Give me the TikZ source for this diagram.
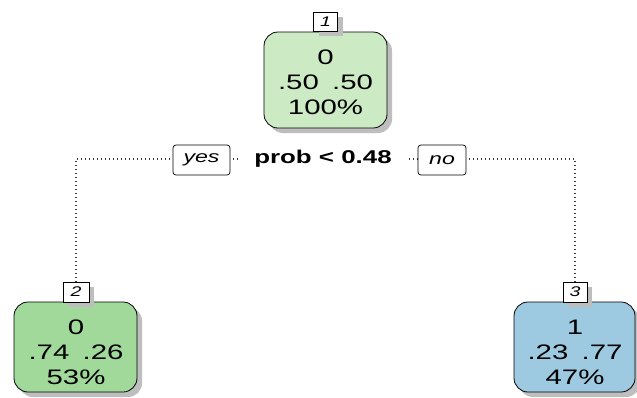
\documentclass[tikz,border=0pt]{standalone}
\usepackage{fontspec}
\setmainfont{Liberation Sans}
\usepackage{graphicx}
\usetikzlibrary{shadows}
\definecolor{topfill}{RGB}{204,235,197}
\definecolor{leftfill}{RGB}{161,217,155}
\definecolor{rightfill}{RGB}{158,202,225}
\definecolor{shadowgray}{RGB}{190,190,190}
\definecolor{dotgray}{RGB}{60,60,60}
\newcommand\sx[1]{\scalebox{1.4}[1]{#1}}
\newcommand\gp{\hspace{0.45em}}
\begin{document}
\begin{tikzpicture}[x=1pt,y=-1pt,
  sh/.style={drop shadow={shadow xshift=5pt,shadow yshift=-5pt,fill=shadowgray,opacity=1}},
  treenode/.style={draw=black,line width=0.8pt,rounded corners=14pt,sh,inner sep=0pt},
  nodetext/.style={align=center,font=\fontsize{21}{25}\selectfont,inner sep=0pt},
  lbl/.style={draw=black,fill=white,line width=0.8pt,inner sep=0pt,minimum height=19pt,
    font=\itshape\fontsize{14}{14}\selectfont,sh},
  yesno/.style={draw=black,fill=white,line width=0.7pt,rounded corners=3pt,inner sep=0pt,
    minimum height=30pt,font=\itshape\fontsize{16.5}{16.5}\selectfont},
  conn/.style={dotgray,line width=1.1pt,dash pattern=on 1pt off 3pt}]
\clip (0,0) rectangle (637,397);
\useasboundingbox (0,0) rectangle (637,397);
\fill[white] (0,0) rectangle (637,397);

% split line label (for connector reference)
\coordinate (splitc) at (323,159);
\node[lbl,minimum width=26pt,minimum height=20pt] (l2) at (76,292) {\sx{2}};
\node[lbl,minimum width=24pt,minimum height=20pt] (l3) at (575,292) {\sx{3}};
\draw[conn] (l2.north) -- (l2.north |- splitc) -- (l3.north |- splitc) -- (l3.north);

\node[font=\bfseries\fontsize{18.5}{18.5}\selectfont,fill=white,inner xsep=14pt,inner ysep=4pt] (split) at (splitc) {\sx{prob < 0.48}};
\node[yesno,minimum width=57pt] (yes) at (201.5,160) {\sx{yes}};
\node[yesno,minimum width=48pt] (no) at (442,160) {\sx{no}};

% tree nodes
\node[treenode,fill=topfill,minimum width=123pt,minimum height=96pt] (n1) at (325.5,80) {};
\node[nodetext] (t1) at (325.5,82) {\sx{0}\\\sx{.50\gp.50}\\\sx{100\%}};
\node[lbl,minimum width=24pt] (l1) at (n1.north) [anchor=south] {\sx{1}};

\node[treenode,fill=leftfill,minimum width=123pt,minimum height=90pt] (n2) at (75.5,347) {};
\node[nodetext] (t2) at (76,352) {\sx{0}\\\sx{.74\gp.26}\\\sx{53\%}};

\node[treenode,fill=rightfill,minimum width=121pt,minimum height=90pt] (n3) at (574.5,347) {};
\node[nodetext] (t3) at (575,352) {\sx{1}\\\sx{.23\gp.77}\\\sx{47\%}};

% redraw labels on top of node shadows
\node[lbl,minimum width=26pt,minimum height=20pt] at (l2) {\sx{2}};
\node[lbl,minimum width=24pt,minimum height=20pt] at (l3) {\sx{3}};
\end{tikzpicture}
\end{document}
